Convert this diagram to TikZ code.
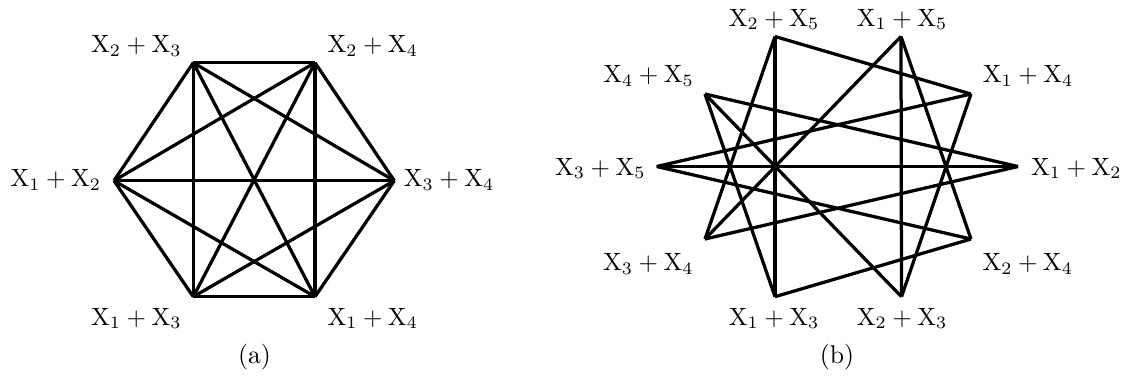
\documentclass[tikz,border=0pt]{standalone}
\begin{document}
\begin{tikzpicture}[x=0.4pt,y=-0.4pt,
  edge/.style={line width=1.3pt},
  lbl/.style={inner sep=0pt, anchor=base, font=\fontsize{10.3}{12}\selectfont},
  lblw/.style={lbl, anchor=base west},
  lble/.style={lbl, anchor=base east}]
\useasboundingbox (0,0) rectangle (1129,383);
% ---- (a) ----
\coordinate (A23) at (193.3,62.7);
\coordinate (A24) at (315,62.7);
\coordinate (A34) at (394.3,180.7);
\coordinate (A14) at (315,296.7);
\coordinate (A13) at (193.3,296.7);
\coordinate (A12) at (114,180.7);
\foreach \a/\b in {A12/A13,A12/A14,A12/A23,A12/A24,A12/A34,
                   A13/A14,A13/A23,A13/A24,A13/A34,
                   A14/A23,A14/A24,A14/A34,
                   A23/A24,A23/A34,A24/A34}
  \draw[edge] (\a) -- (\b);
\node[lble] (LA23) at (182,52.7) {$\mathrm{X}_2+\mathrm{X}_3$};
\node[lblw] (LA24) at (327,52.7) {$\mathrm{X}_2+\mathrm{X}_4$};
\node[lblw] (LA34) at (403.3,186.5) {$\mathrm{X}_3+\mathrm{X}_4$};
\node[lble] (LA12) at (101.7,186.5) {$\mathrm{X}_1+\mathrm{X}_2$};
\node[lble] (LA13) at (182,325) {$\mathrm{X}_1+\mathrm{X}_3$};
\node[lblw] (LA14) at (327,325) {$\mathrm{X}_1+\mathrm{X}_4$};
\node[lbl] (capa) at (254.5,363) {(a)};
% ---- (b) ----
\coordinate (B12) at (1018,166.5);
\coordinate (B14) at (971,94);
\coordinate (B15) at (901,36.5);
\coordinate (B25) at (775,36.5);
\coordinate (B45) at (705,94);
\coordinate (B35) at (656.7,166.5);
\coordinate (B34) at (705,239);
\coordinate (B13) at (775,296.7);
\coordinate (B23) at (901.5,296.7);
\coordinate (B24) at (971,239);
\foreach \a/\b in {B12/B34,B12/B35,B12/B45,B13/B24,B13/B25,B13/B45,
                   B14/B23,B14/B25,B14/B35,B15/B23,B15/B24,B15/B34,
                   B23/B45,B24/B35,B25/B34}
  \draw[edge] (\a) -- (\b);
\node[lbl] (LB25) at (774,26) {$\mathrm{X}_2+\mathrm{X}_5$};
\node[lbl] (LB15) at (902,26) {$\mathrm{X}_1+\mathrm{X}_5$};
\node[lblw] (LB14) at (982.4,82.7) {$\mathrm{X}_1+\mathrm{X}_4$};
\node[lble] (LB45) at (694.3,82.7) {$\mathrm{X}_4+\mathrm{X}_5$};
\node[lble] (LB35) at (646,175) {$\mathrm{X}_3+\mathrm{X}_5$};
\node[lblw] (LB12) at (1030.7,175) {$\mathrm{X}_1+\mathrm{X}_2$};
\node[lble] (LB34) at (694,270.7) {$\mathrm{X}_3+\mathrm{X}_4$};
\node[lblw] (LB24) at (982,270.7) {$\mathrm{X}_2+\mathrm{X}_4$};
\node[lbl] (LB13) at (774,325) {$\mathrm{X}_1+\mathrm{X}_3$};
\node[lbl] (LB23) at (902,325) {$\mathrm{X}_2+\mathrm{X}_3$};
\node[lbl] (capb) at (837,363) {(b)};
\end{tikzpicture}
\end{document}
